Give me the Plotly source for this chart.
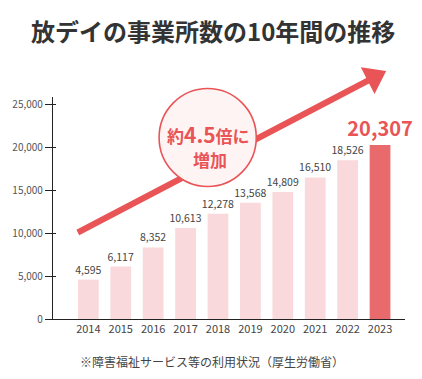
import numpy as np
import plotly.graph_objects as go

years = ["2014", "2015", "2016", "2017", "2018", "2019", "2020", "2021", "2022", "2023"]
counts = [4595, 6117, 8352, 10613, 12278, 13568, 14809, 16510, 18526, 20307]
y_ticks = [0, 5000, 10000, 15000, 20000, 25000]
y_tick_labels = ["0", "5,000", "10,000", "15,000", "20,000", "25,000"]

W, H = 422, 379
L, R, T, B = 50, 17, 97, 60
PW, PH = W - L - R, H - T - B

def px(x, y):
    return (x - L) / PW, (H - B - y) / PH

FONT = "Noto Sans CJK JP, Noto Sans, sans-serif"
RED = "#E95557"
LIGHT = "#F9D9DB"
DARK_BAR = "#E86A6C"

n = len(counts)
colors = [LIGHT] * (n - 1) + [DARK_BAR]
labels = [f"{v:,}" for v in counts[:-1]] + [f"<b>{counts[-1]:,}</b>"]
tsize = [10.5] * (n - 1) + [20]
tcolor = ["#444444"] * (n - 1) + [RED]

fig = go.Figure()
fig.add_trace(go.Bar(
    x=years, y=counts, marker=dict(color=colors, line=dict(width=0)),
    width=0.64, text=labels, textposition="outside",
    textfont=dict(size=tsize, color=tcolor, family=FONT),
    constraintext="none", cliponaxis=False, hoverinfo="skip",
))
# invisible trace for inner tick marks
fig.add_trace(go.Scatter(x=[years[0]], y=[0], yaxis="y2", mode="markers",
                         marker=dict(opacity=0), hoverinfo="skip", showlegend=False))

# arrow
tail = np.array([75.0, 232.5])
tip = np.array([386.0, 71.0])
d = tip - tail
u = d / np.linalg.norm(d)
nrm = np.array([-u[1], u[0]])
if nrm[1] < 0:
    nrm = -nrm
hl, hw, sw = 21.0, 15.0, 3.1
base = tip - hl * u
pts = [tail - sw * nrm, base - sw * nrm, base - hw * nrm, tip, base + hw * nrm, base + sw * nrm, tail + sw * nrm]
path = "M " + " L ".join(f"{px(*p)[0]:.5f},{px(*p)[1]:.5f}" for p in pts) + " Z"

shapes = [dict(type="path", path=path, xref="paper", yref="paper", fillcolor=RED,
               line=dict(width=0), layer="above")]
cx, cy, r = 206, 137.5, 49
x0, y0 = px(cx - r, cy + r)
x1, y1 = px(cx + r, cy - r)
shapes.append(dict(type="circle", xref="paper", yref="paper", x0=x0, y0=y0, x1=x1, y1=y1,
                   fillcolor="#FFF4F4", line=dict(color=RED, width=1.6), layer="above"))

annotations = []
tx, ty = px(211, 30)
annotations.append(dict(text="<b>放デイの事業所数の10年間の推移</b>", x=tx, y=ty, xref="paper", yref="paper",
                        showarrow=False, font=dict(size=24, color="#333333", family=FONT),
                        xanchor="center", yanchor="middle"))
a1x, a1y = px(207, 134)
annotations.append(dict(text="<b>約<span style='font-size:21px'>4.5</span>倍に</b>",
                        x=a1x, y=a1y, xref="paper", yref="paper", showarrow=False,
                        font=dict(size=17, color=RED, family=FONT), xanchor="center", yanchor="middle"))
a2x, a2y = px(208, 159)
annotations.append(dict(text="<b>増加</b>", x=a2x, y=a2y, xref="paper", yref="paper", showarrow=False,
                        font=dict(size=17, color=RED, family=FONT), xanchor="center", yanchor="middle"))
sx, sy = px(75, 361)
annotations.append(dict(text="※障害福祉サービス等の利用状況（厚生労働省）", x=sx, y=sy, xref="paper", yref="paper",
                        showarrow=False, font=dict(size=12, color="#444444", family=FONT),
                        xanchor="left", yanchor="middle"))

yr = [0, 25900]
fig.update_layout(
    width=W, height=H, margin=dict(l=L, r=R, t=T, b=B),
    paper_bgcolor="white", plot_bgcolor="white", showlegend=False,
    font=dict(family=FONT, color="#444444"),
    bargap=0.36,
    xaxis=dict(type="category", range=[-1.09, 9.77], showline=True, linecolor="#222222", linewidth=1.2,
               ticks="", tickfont=dict(size=11, color="#444444"), showgrid=False, zeroline=False,
               fixedrange=True),
    yaxis=dict(range=yr, tickvals=y_ticks, ticktext=y_tick_labels, showline=True, linecolor="#222222",
               linewidth=1.2, ticks="outside", ticklen=7, tickcolor="#222222", tickwidth=1.2,
               tickfont=dict(size=10, color="#555555"), showgrid=False, zeroline=False, fixedrange=True),
    yaxis2=dict(range=yr, tickvals=y_ticks[1:], overlaying="y", side="left", ticks="inside", ticklen=3,
                tickcolor="#222222", tickwidth=1.2, showticklabels=False, showline=False,
                showgrid=False, zeroline=False, fixedrange=True),
    shapes=shapes, annotations=annotations,
)
fig.write_html("out.html", config={"displayModeBar": False},
               post_script="document.body.style.margin='0';document.body.style.padding='0';")
